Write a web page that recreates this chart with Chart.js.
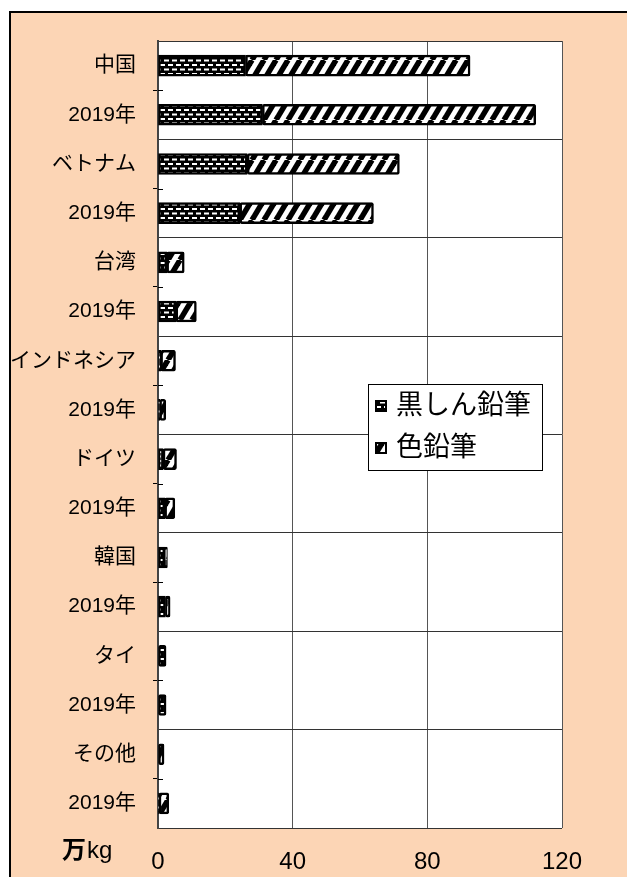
<!DOCTYPE html>
<html lang="ja">
<head>
<meta charset="UTF-8">
<title>鉛筆 輸入量</title>
<script src="https://cdn.jsdelivr.net/npm/chart.js"></script>
<style>
  body { margin: 0; background: #fff; }
  #frame {
    position: absolute; left: 9px; top: 11px; width: 700px; height: 900px;
    background: #FCD5B5; border-left: 2px solid #000; border-top: 2px solid #000;
  }
  #c { position: absolute; left: 0; top: 0; }
</style>
</head>
<body>
<div id="frame"></div>
<canvas id="c" width="627" height="877"></canvas>
<script>
// categories (top to bottom) and values in 万kg
const labels = ['中国', '2019年', 'ベトナム', '2019年', '台湾', '2019年', 'インドネシア', '2019年',
                'ドイツ', '2019年', '韓国', '2019年', 'タイ', '2019年', 'その他', '2019年'];
const kuroshin = [26, 31, 26.5, 24.3, 2.6, 5.3, 0.8, 0.5, 1.5, 2, 2, 2.2, 2.4, 2.4, null, 0.3];
const iroenpitsu = [66.7, 81.2, 45.2, 39.7, 5.2, 6.1, 4.4, 1.8, 4, 3, 0.8, 1.4, null, null, 1.8, 2.9];
const seriesNames = ['黒しん鉛筆', '色鉛筆'];
const xTicks = [0, 40, 80, 120];
const unitLabel = ['万', 'kg'];

const FONT = '"Liberation Sans", "Noto Sans CJK JP", sans-serif';

// dotted pattern: black with rows of short white dashes
function dotPattern() {
  const t = document.createElement('canvas');
  t.width = 8; t.height = 9;
  const g = t.getContext('2d');
  g.fillStyle = '#000'; g.fillRect(0, 0, 8, 9);
  g.fillStyle = '#fff';
  g.fillRect(0, 1, 5, 2);
  g.fillRect(4, 5.5, 4, 2);
  g.fillRect(0, 5.5, 1, 2);
  return g.createPattern(t, 'repeat');
}

// diagonal hatch: white with thick black "/" stripes
function hatchPattern() {
  const w = 12, h = 20;
  const t = document.createElement('canvas');
  t.width = w; t.height = h;
  const g = t.getContext('2d');
  g.fillStyle = '#fff'; g.fillRect(0, 0, w, h);
  g.strokeStyle = '#000'; g.lineWidth = 5.5;
  for (const dx of [-w, 0, w]) {
    g.beginPath(); g.moveTo(dx, h); g.lineTo(dx + w, 0); g.stroke();
  }
  return g.createPattern(t, 'repeat');
}

const dots = dotPattern();
const hatch = hatchPattern();

const decor = {
  id: 'decor',
  beforeDraw(chart) {
    const { ctx, chartArea: a } = chart;
    ctx.save();
    ctx.fillStyle = '#fff';
    ctx.fillRect(a.left, a.top, a.right - a.left, a.bottom - a.top);
    ctx.restore();
  },
  afterDraw(chart) {
    const ctx = chart.ctx;
    const ys = chart.scales.y;
    ctx.save();
    // inner half of the minor category ticks (they cross the axis)
    ctx.strokeStyle = '#000'; ctx.lineWidth = 1;
    for (let i = 1; i < labels.length; i += 2) {
      const y = Math.round((ys.getPixelForTick(i - 1) + ys.getPixelForTick(i)) / 2) + 0.5;
      ctx.beginPath(); ctx.moveTo(ys.right, y); ctx.lineTo(ys.right + 5, y); ctx.stroke();
    }

    // unit label
    ctx.fillStyle = '#000';
    ctx.textBaseline = 'middle';
    ctx.font = 'bold 24px ' + FONT;
    ctx.fillText(unitLabel[0], 62, 851);
    const w = ctx.measureText(unitLabel[0]).width;
    ctx.font = '24px ' + FONT;
    ctx.fillText(unitLabel[1], 62 + w + 1, 851);

    // legend
    ctx.fillStyle = '#fff';
    ctx.fillRect(368, 384, 174, 86);
    ctx.strokeStyle = '#000'; ctx.lineWidth = 1;
    ctx.strokeRect(368.5, 384.5, 174, 86);
    const fills = [dots, hatch];
    const ly = [406, 448];
    ctx.font = '27px ' + FONT;
    seriesNames.forEach((name, i) => {
      ctx.fillStyle = fills[i];
      ctx.fillRect(376, ly[i] - 5, 10, 10);
      ctx.strokeStyle = '#000'; ctx.lineWidth = 2;
      ctx.strokeRect(376, ly[i] - 5, 10, 10);
      ctx.fillStyle = '#000';
      ctx.fillText(name, 396, ly[i] + 1);
    });
    ctx.restore();
  }
};

const even = c => c.index === undefined || c.index % 2 === 0;

new Chart(document.getElementById('c'), {
  type: 'bar',
  data: {
    labels: labels,
    datasets: [
      { label: seriesNames[0], data: kuroshin, backgroundColor: dots },
      { label: seriesNames[1], data: iroenpitsu, backgroundColor: hatch }
    ].map(d => Object.assign(d, {
      borderColor: '#000', borderWidth: 2.5, borderSkipped: false, borderRadius: 2,
      barThickness: 21
    }))
  },
  options: {
    indexAxis: 'y',
    responsive: false,
    animation: false,
    layout: { padding: { top: 41, right: 65, left: 0, bottom: 0 } },
    plugins: { legend: { display: false }, tooltip: { enabled: false } },
    scales: {
      x: {
        stacked: true, min: 0, max: 120,
        afterBuildTicks: s => { s.ticks = xTicks.map(v => ({ value: v })); },
        afterFit: s => { s.height = 877 - 828; },
        grid: { color: '#555', lineWidth: 1, drawTicks: false },
        border: { display: false },
        ticks: { color: '#000', padding: 20, font: { family: FONT, size: 24 } }
      },
      y: {
        stacked: true,
        afterFit: s => { s.width = 158; },
        grid: {
          offset: true,
          color: c => even(c) ? '#333' : 'rgba(0,0,0,0)',
          tickColor: c => even(c) ? 'rgba(0,0,0,0)' : '#000',
          tickLength: 5,
          lineWidth: 1
        },
        border: { color: '#444', width: 2 },
        ticks: { color: '#000', padding: 17, autoSkip: false, font: { family: FONT, size: 21 } }
      }
    }
  },
  plugins: [decor]
});
</script>
</body>
</html>
